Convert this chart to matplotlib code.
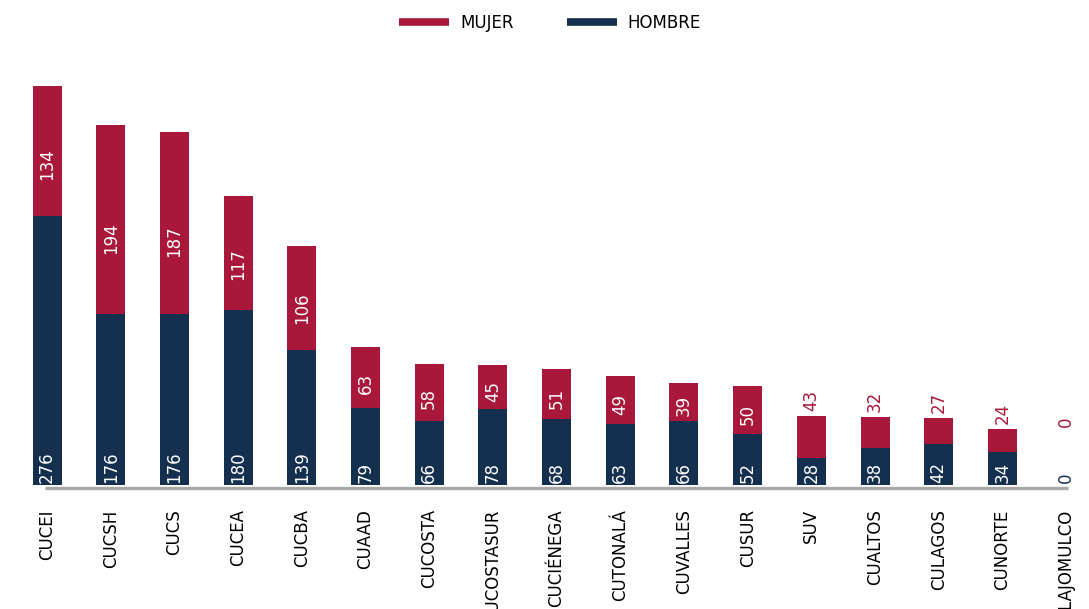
import matplotlib

matplotlib.use("Agg")
import matplotlib.pyplot as plt
from matplotlib.lines import Line2D

OUT = "out.png"

RED = "#a9183a"
NAVY = "#15304f"

centros = ["CUCEI", "CUCSH", "CUCS", "CUCEA", "CUCBA", "CUAAD", "CUCOSTA", "CUCOSTASUR",
           "CUCIÉNEGA", "CUTONALÁ", "CUVALLES", "CUSUR", "SUV", "CUALTOS", "CULAGOS",
           "CUNORTE", "CUTLAJOMULCO"]
hombre = [276, 176, 176, 180, 139, 79, 66, 78, 68, 63, 66, 52, 28, 38, 42, 34, 0]
mujer = [134, 194, 187, 117, 106, 63, 58, 45, 51, 49, 39, 50, 43, 32, 27, 24, 0]
# centros whose MUJER label sits above the bar instead of inside it
fuera = ["SUV", "CUALTOS", "CULAGOS", "CUNORTE", "CUTLAJOMULCO"]


def main():
    fig = plt.figure(figsize=(10.89, 6.09), dpi=100)
    ax = fig.add_axes([0.0, 0.2036, 1.0, 0.7307])

    xs = list(range(len(centros)))
    w = 0.455
    ax.bar(xs, hombre, width=w, color=NAVY, zorder=2)
    ax.bar(xs, mujer, width=w, bottom=hombre, color=RED, zorder=2)

    for x, name, h, m in zip(xs, centros, hombre, mujer):
        # HOMBRE value at the base of the bar
        ax.text(x, 2, f"{h}", rotation=90, ha="center", va="bottom", fontsize=12,
                color="white" if h > 0 else NAVY, zorder=3)
        if name in fuera:
            ax.text(x, max(h + m + 5, 60), f"{m}", rotation=90, ha="center", va="bottom",
                    fontsize=12, color=RED, zorder=3)
        else:
            ax.text(x, h + 0.4 * m, f"{m}", rotation=90, ha="center", va="center",
                    fontsize=12, color="white", zorder=3)

    # baseline
    ax.plot([xs[0] - 0.03, xs[-1] + 0.03], [-2.8, -2.8], color="#a8a8a8", lw=2.4,
            solid_capstyle="butt", zorder=1, clip_on=False)

    for x, name in zip(xs, centros):
        ax.text(x, -25, name, rotation=90, ha="center", va="top", fontsize=12,
                color="black", clip_on=False)

    ax.set_xlim(-0.74, 16.36)
    ax.set_ylim(0, 457)
    ax.axis("off")

    handles = [Line2D([], [], color=RED, lw=5.5, solid_capstyle="butt"),
               Line2D([], [], color=NAVY, lw=5.5, solid_capstyle="butt")]
    fig.legend(handles, ["MUJER", "HOMBRE"], loc="center", bbox_to_anchor=(0.505, 0.962),
               ncol=2, frameon=False, fontsize=12, handlelength=3.0, handletextpad=0.65,
               columnspacing=3.2)

    fig.savefig(OUT, dpi=100)


if __name__ == "__main__":
    main()
